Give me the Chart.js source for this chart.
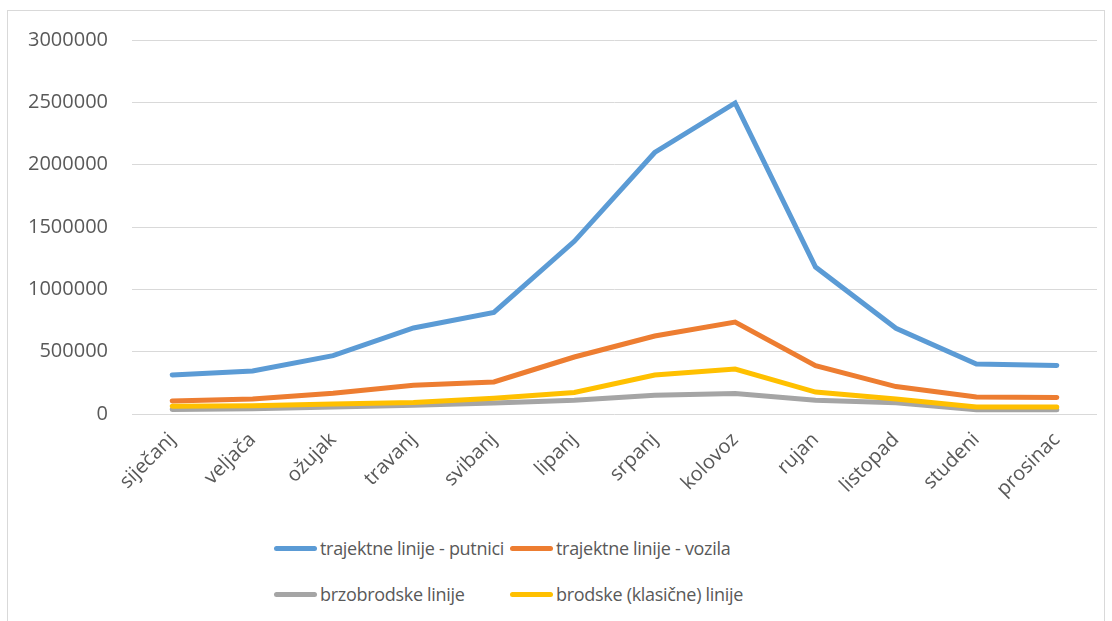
<!DOCTYPE html>
<html>
<head>
<meta charset="utf-8">
<script src="https://cdn.jsdelivr.net/npm/chart.js@4"></script>
<style>
  body { margin: 0; background: #fff; font-family: "Open Sans", sans-serif; }
  #wrap { position: relative; width: 1112px; height: 621px; overflow: hidden; }
  #frame { position: absolute; left: 7px; top: 10px; width: 1096px; height: 640px; border: 1px solid #d9d9d9; }
  #graph { position: absolute; left: 0; top: 0; }
  #legend { position: absolute; left: 274px; top: 525px; color: #595959; font-size: 18px; letter-spacing: -0.3px; }
  .row { display: flex; height: 46px; align-items: center; }
  .item { display: flex; align-items: center; width: 236px; white-space: nowrap; }
  .line { display: inline-block; width: 43px; height: 5px; border-radius: 3px; margin-right: 3px; }
</style>
</head>
<body>
<div id="wrap">
  <div id="frame"></div>
  <canvas id="graph" width="1112" height="525"></canvas>
  <div id="legend"></div>
</div>
<script>
var months = ['siječanj', 'veljača', 'ožujak', 'travanj', 'svibanj', 'lipanj',
  'srpanj', 'kolovoz', 'rujan', 'listopad', 'studeni', 'prosinac'];

var putnici = [313000, 345000, 468000, 690000, 815000, 1385000, 2098000, 2495000, 1179000, 688000, 401000, 390000];
var vozila = [105000, 120000, 166000, 230000, 257000, 457000, 626000, 738000, 388000, 220000, 136000, 133000];
var brzobrodske = [36000, 42000, 56000, 70000, 88000, 110000, 150000, 165000, 110000, 90000, 34000, 34000];
var brodske = [62000, 66000, 80000, 92000, 126000, 172000, 313000, 361000, 176000, 120000, 56000, 56000];

var seriesNames = ['trajektne linije - putnici', 'trajektne linije - vozila', 'brzobrodske linije', 'brodske (klasične) linije'];
var seriesColors = ['#5B9BD5', '#ED7D31', '#A5A5A5', '#FFC000'];
var seriesData = [putnici, vozila, brzobrodske, brodske];

var yMax = 3000000;
var yStep = 500000;

document.addEventListener('DOMContentLoaded', () => {
  var ctx = document.getElementById('graph').getContext('2d');

  var datasets = seriesData.map(function (d, i) {
    return {
      label: seriesNames[i],
      data: d,
      borderColor: seriesColors[i],
      backgroundColor: seriesColors[i],
      borderWidth: 5,
      borderCapStyle: 'round',
      borderJoinStyle: 'miter',
      pointRadius: 0,
      tension: 0,
      order: 4 - i
    };
  });

  var myChart = new Chart(ctx, {
    type: 'line',
    data: { labels: months, datasets: datasets },
    options: {
      responsive: false,
      animation: false,
      layout: { padding: { top: 40, right: 15, left: 0, bottom: 0 } },
      scales: {
        y: {
          min: 0,
          max: yMax,
          ticks: {
            stepSize: yStep,
            color: '#595959',
            padding: 24,
            font: { family: 'Open Sans', size: 20 },
            callback: function (v) { return String(v); }
          },
          grid: { color: '#d9d9d9', lineWidth: 1, drawTicks: false },
          border: { display: false },
          afterFit: function (scale) { scale.width = 132; }
        },
        x: {
          offset: true,
          ticks: {
            color: '#595959',
            minRotation: 45,
            maxRotation: 45,
            padding: 6,
            font: { family: 'Open Sans', size: 20 }
          },
          grid: { display: false },
          border: { display: false },
          afterFit: function (scale) { scale.height = 111; }
        }
      },
      plugins: {
        legend: { display: false },
        tooltip: { enabled: false }
      }
    }
  });

  // legend in two rows, columns aligned like the original
  var legend = document.getElementById('legend');
  for (var r = 0; r < 2; r++) {
    var row = document.createElement('div');
    row.className = 'row';
    for (var c = 0; c < 2; c++) {
      var ds = myChart.data.datasets[r * 2 + c];
      var item = document.createElement('div');
      item.className = 'item';
      var line = document.createElement('span');
      line.className = 'line';
      line.style.background = ds.borderColor;
      var txt = document.createElement('span');
      txt.textContent = ds.label;
      item.appendChild(line);
      item.appendChild(txt);
      row.appendChild(item);
    }
    legend.appendChild(row);
  }
});
</script>
</body>
</html>
